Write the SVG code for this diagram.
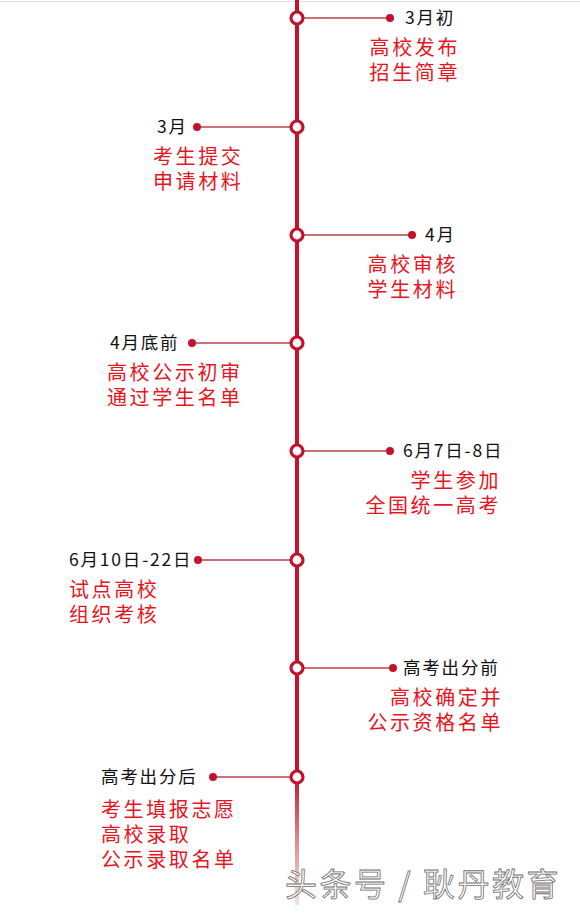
<svg xmlns="http://www.w3.org/2000/svg" width="580" height="915" viewBox="0 0 580 915">
<defs>
<linearGradient id="fade" x1="0" y1="0" x2="0" y2="1">
<stop offset="0" stop-color="#c3122c"/>
<stop offset="0.86" stop-color="#c3122c"/>
<stop offset="1" stop-color="#f2c8c0" stop-opacity="0.6"/>
</linearGradient>
<style>
.date{font-family:"Noto Sans CJK SC","Liberation Sans",sans-serif;font-size:17.5px;fill:#111;letter-spacing:1.8px}
.desc{font-family:"Noto Sans CJK SC","Liberation Sans",sans-serif;font-size:20px;fill:#e8141e;letter-spacing:2.6px}
.ring{fill:#fff;stroke:#c3122c;stroke-width:3.2}
.conn{stroke:#b8404e;stroke-width:1.6;fill:none}
.dot{fill:#c3122c}
.wm{font-family:"Noto Sans CJK SC",sans-serif;font-size:32px;fill:#fbfbfb;stroke:#707070;stroke-width:0.8;letter-spacing:2.5px}
</style>
</defs>
<rect width="580" height="915" fill="#fff"/>
<line x1="0" y1="1.5" x2="580" y2="1.5" stroke="#e2e2e2" stroke-width="1"/>
<g id="connectors">
<rect x="295" y="0" width="4" height="905" fill="url(#fade)"/>
<line class="conn" x1="297" y1="18" x2="390" y2="18"/>
<line class="conn" x1="197" y1="127" x2="297" y2="127"/>
<line class="conn" x1="297" y1="235" x2="412" y2="235"/>
<line class="conn" x1="192" y1="343" x2="297" y2="343"/>
<line class="conn" x1="297" y1="451" x2="390" y2="451"/>
<line class="conn" x1="198" y1="560" x2="297" y2="560"/>
<line class="conn" x1="297" y1="668" x2="393" y2="668"/>
<line class="conn" x1="213" y1="777" x2="297" y2="777"/>
</g>
<g id="node1">
<circle class="ring" cx="297" cy="18" r="6"/>
<circle class="dot" cx="390" cy="18" r="4"/>
<text class="date" x="405" y="24">3月初</text>
<text class="desc" text-anchor="end"><tspan x="460" y="55">高校发布</tspan><tspan x="460" y="80">招生简章</tspan></text>
</g>
<g id="node2">
<circle class="ring" cx="297" cy="127" r="6"/>
<circle class="dot" cx="197" cy="127" r="4"/>
<text class="date" x="157" y="133">3月</text>
<text class="desc"><tspan x="153" y="164">考生提交</tspan><tspan x="153" y="189">申请材料</tspan></text>
</g>
<g id="node3">
<circle class="ring" cx="297" cy="235" r="6"/>
<circle class="dot" cx="412" cy="235" r="4"/>
<text class="date" x="425" y="241">4月</text>
<text class="desc" text-anchor="end"><tspan x="458" y="272">高校审核</tspan><tspan x="458" y="297">学生材料</tspan></text>
</g>
<g id="node4">
<circle class="ring" cx="297" cy="343" r="6"/>
<circle class="dot" cx="192" cy="343" r="4"/>
<text class="date" x="110" y="349">4月底前</text>
<text class="desc"><tspan x="107" y="380">高校公示初审</tspan><tspan x="107" y="405">通过学生名单</tspan></text>
</g>
<g id="node5">
<circle class="ring" cx="297" cy="451" r="6"/>
<circle class="dot" cx="390" cy="451" r="4"/>
<text class="date" x="403" y="457">6月7日-8日</text>
<text class="desc" text-anchor="end"><tspan x="501" y="488">学生参加</tspan><tspan x="501" y="513">全国统一高考</tspan></text>
</g>
<g id="node6">
<circle class="ring" cx="297" cy="560" r="6"/>
<circle class="dot" cx="198" cy="560" r="4"/>
<text class="date" x="69" y="566">6月10日-22日</text>
<text class="desc"><tspan x="69" y="597">试点高校</tspan><tspan x="69" y="622">组织考核</tspan></text>
</g>
<g id="node7">
<circle class="ring" cx="297" cy="668" r="6"/>
<circle class="dot" cx="393" cy="668" r="4"/>
<text class="date" x="403" y="674">高考出分前</text>
<text class="desc" text-anchor="end"><tspan x="503" y="705">高校确定并</tspan><tspan x="503" y="730">公示资格名单</tspan></text>
</g>
<g id="node8">
<circle class="ring" cx="297" cy="777" r="6"/>
<circle class="dot" cx="213" cy="777" r="4"/>
<text class="date" x="101" y="783">高考出分后</text>
<text class="desc"><tspan x="101" y="817">考生填报志愿</tspan><tspan x="101" y="842">高校录取</tspan><tspan x="101" y="867">公示录取名单</tspan></text>
</g>
<text class="wm" x="285" y="896">头条号 / 耿丹教育</text>
</svg>
